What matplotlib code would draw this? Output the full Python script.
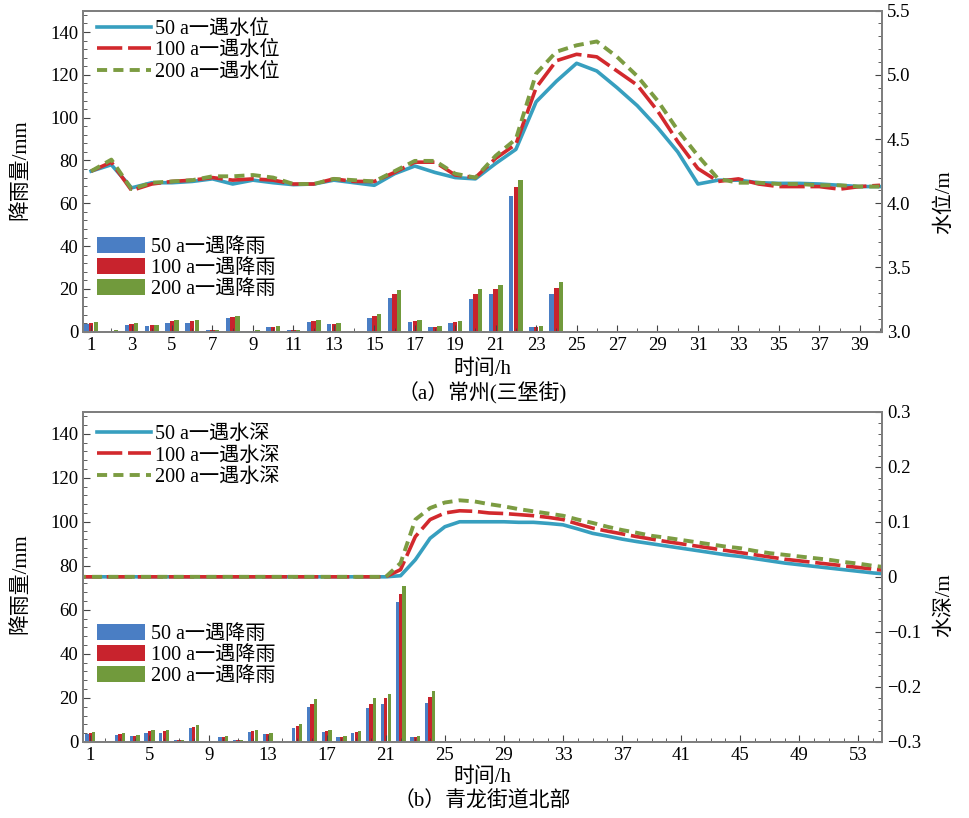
import matplotlib
matplotlib.use("Agg")
import matplotlib.pyplot as plt
from matplotlib.ticker import MultipleLocator, FuncFormatter

plt.rcParams['font.family'] = ['Liberation Serif', 'Noto Sans CJK SC']
plt.rcParams['font.size'] = 12.5

# rainfall (mm), same storm for both sites
rain_hours = list(range(1, 25))
rain_50 = [3.6, 0.4, 3.1, 2.6, 4.2, 4.2, 0.8, 6.5, 0.4, 2.2, 0.7, 4.5,
           3.6, 0.0, 6.4, 15.8, 4.5, 2.2, 3.9, 15.3, 17.4, 63.5, 2.3, 17.8]
rain_100 = [4.0, 0.5, 3.5, 2.9, 4.8, 4.8, 0.9, 7.0, 0.5, 2.4, 0.8, 5.0,
            3.7, 0.0, 7.3, 17.4, 5.0, 2.4, 4.4, 17.4, 19.8, 67.4, 2.4, 20.5]
rain_200 = [4.4, 0.6, 3.9, 3.1, 5.4, 5.3, 1.0, 7.5, 0.6, 2.6, 0.9, 5.6,
            4.0, 0.0, 8.1, 19.4, 5.4, 2.5, 5.0, 20.0, 21.7, 70.8, 2.6, 23.0]

# (a) water level (m)
level_hours = list(range(1, 41))
level_50 = [4.25, 4.30, 4.12, 4.16, 4.16, 4.17, 4.19, 4.15, 4.18, 4.16,
            4.145, 4.15, 4.18, 4.16, 4.14, 4.23, 4.29, 4.24, 4.20, 4.19,
            4.31, 4.42, 4.79, 4.95, 5.09, 5.03, 4.90, 4.76, 4.59, 4.40,
            4.15, 4.18, 4.18, 4.16, 4.155, 4.155, 4.15, 4.14, 4.13, 4.13]
level_100 = [4.25, 4.32, 4.10, 4.15, 4.17, 4.18, 4.20, 4.18, 4.19, 4.18,
             4.15, 4.15, 4.19, 4.17, 4.17, 4.24, 4.32, 4.32, 4.22, 4.20,
             4.35, 4.46, 4.90, 5.11, 5.16, 5.14, 5.03, 4.92, 4.72, 4.48,
             4.27, 4.17, 4.19, 4.15, 4.13, 4.13, 4.13, 4.11, 4.13, 4.14]
level_200 = [4.25, 4.34, 4.11, 4.16, 4.17, 4.18, 4.21, 4.21, 4.22, 4.20,
             4.15, 4.15, 4.19, 4.18, 4.17, 4.25, 4.33, 4.33, 4.23, 4.20,
             4.37, 4.50, 5.01, 5.18, 5.23, 5.26, 5.14, 4.99, 4.80, 4.57,
             4.37, 4.19, 4.16, 4.16, 4.15, 4.15, 4.14, 4.14, 4.13, 4.13]

# (b) water depth (m)
depth_hours = list(range(0, 56))
depth_50 = [0, 0, 0, 0, 0, 0, 0, 0, 0, 0, 0, 0, 0, 0, 0, 0, 0, 0, 0, 0, 0, 0,
            0.002, 0.031, 0.070, 0.091, 0.100, 0.100, 0.100, 0.100, 0.099, 0.099,
            0.097, 0.0945, 0.087, 0.079, 0.074, 0.0685, 0.064, 0.060, 0.056, 0.052,
            0.048, 0.044, 0.040, 0.037, 0.033, 0.029, 0.025, 0.022, 0.019, 0.016,
            0.013, 0.010, 0.007, 0.005]
depth_100 = [0, 0, 0, 0, 0, 0, 0, 0, 0, 0, 0, 0, 0, 0, 0, 0, 0, 0, 0, 0, 0, 0,
             0.013, 0.073, 0.104, 0.116, 0.120, 0.119, 0.116, 0.115, 0.113, 0.111,
             0.108, 0.104, 0.096, 0.0885, 0.083, 0.078, 0.073, 0.0685, 0.064, 0.060,
             0.056, 0.052, 0.048, 0.044, 0.040, 0.036, 0.032, 0.029, 0.026, 0.023,
             0.020, 0.017, 0.014, 0.011]
depth_200 = [0, 0, 0, 0, 0, 0, 0, 0, 0, 0, 0, 0, 0, 0, 0, 0, 0, 0, 0, 0, 0, 0,
             0.025, 0.104, 0.125, 0.135, 0.139, 0.137, 0.132, 0.128, 0.123, 0.119,
             0.115, 0.111, 0.104, 0.098, 0.091, 0.085, 0.080, 0.0745, 0.071, 0.067,
             0.063, 0.059, 0.055, 0.052, 0.047, 0.043, 0.040, 0.037, 0.034, 0.031,
             0.027, 0.024, 0.020, 0.017]

bar_colors = ['#4a7ec4', '#c8232d', '#719a3c']
line_colors = ['#379fbf', '#d2292d', '#7c9c42']
frame_color = '#7f7f7f'
label_size = 15


def style_axes(ax, ax2):
    for a in (ax, ax2):
        for s in a.spines.values():
            s.set_color(frame_color)
            s.set_linewidth(1.4)
        a.tick_params(which='both', direction='in', color='#444444', labelsize=13.5)
        a.tick_params(which='major', length=5)
        a.tick_params(which='minor', length=3)
    ax.set_ylim(0, 150)
    ax.yaxis.set_major_locator(MultipleLocator(20))
    ax.yaxis.set_minor_locator(MultipleLocator(4))
    ax.xaxis.set_minor_locator(MultipleLocator(1))


def draw_panel(ax, level_x, levels, lvl_name):
    offs = [-0.23, 0.0, 0.23]
    names = ['50 a一遇降雨', '100 a一遇降雨', '200 a一遇降雨']
    for rain, off, c, n in zip([rain_50, rain_100, rain_200], offs, bar_colors, names):
        ax.bar([h + off for h in rain_hours], rain, width=0.22, color=c, label=n)
    ax2 = ax.twinx()
    styles = ['-', (0, (7, 1.6)), (0, (2.6, 1.6))]
    widths = [2.6, 2.6, 2.8]
    rps = ['50', '100', '200']
    for lv, c, st, lw, rp in zip(levels, line_colors, styles, widths, rps):
        ax2.plot(level_x, lv, color=c, ls=st, lw=lw, label=rp + ' a一遇' + lvl_name)
    return ax2


def add_legends(ax, ax2, y_lines, y_bars):
    ax2.legend(loc='center left', bbox_to_anchor=(0.0175, y_lines), frameon=False,
               borderpad=0, borderaxespad=0, handlelength=2.7, handletextpad=0.2,
               labelspacing=0.12, fontsize=14.5)
    ax.legend(loc='center left', bbox_to_anchor=(0.0175, y_bars), frameon=False,
              borderpad=0, borderaxespad=0, handlelength=2.4, handleheight=0.8,
              handletextpad=0.3, labelspacing=0.06, fontsize=14.5)


fig = plt.figure(figsize=(9.7, 8.18), dpi=100)

# (a) Changzhou
ax_a = fig.add_axes([0.0856, 0.5945, 0.8237, 0.3925])
ax_a2 = draw_panel(ax_a, level_hours, [level_50, level_100, level_200], '水位')
style_axes(ax_a, ax_a2)
ax_a.set_xlim(0.6, 40.1)
ax_a.set_xticks(range(1, 40, 2))
ax_a2.set_ylim(3.0, 5.5)
ax_a2.yaxis.set_major_locator(MultipleLocator(0.5))
ax_a2.yaxis.set_minor_locator(MultipleLocator(0.1))
ax_a2.yaxis.set_major_formatter(FuncFormatter(lambda v, p: f'{v:.1f}'))
add_legends(ax_a, ax_a2, 0.875, 0.198)

# (b) Qinglong street north
ax_b = fig.add_axes([0.0856, 0.093, 0.8237, 0.4037])
ax_b2 = draw_panel(ax_b, depth_hours, [depth_50, depth_100, depth_200], '水深')
style_axes(ax_b, ax_b2)
ax_b.set_xlim(0.5, 54.6)
ax_b.set_xticks(range(1, 54, 4))
ax_b2.set_ylim(-0.3, 0.3)
ax_b2.yaxis.set_major_locator(MultipleLocator(0.1))
ax_b2.yaxis.set_minor_locator(MultipleLocator(0.02))
ax_b2.yaxis.set_major_formatter(FuncFormatter(
    lambda v, p: '0' if abs(v) < 1e-9 else f'{v:.1f}'.replace('-', '\u2212')))
add_legends(ax_b, ax_b2, 0.866, 0.263)

# labels
fig.text(0.021, 0.792, '降雨量/mm', rotation=90, ha='center', va='center', fontsize=label_size)
fig.text(0.974, 0.753, '水位/m', rotation=90, ha='center', va='center', fontsize=label_size)
fig.text(0.497, 0.549, '时间/h', ha='center', va='center', fontsize=label_size)
fig.text(0.497, 0.519, '（a）常州(三堡街)', ha='center', va='center', fontsize=label_size)

fig.text(0.021, 0.287, '降雨量/mm', rotation=90, ha='center', va='center', fontsize=label_size)
fig.text(0.974, 0.260, '水深/m', rotation=90, ha='center', va='center', fontsize=label_size)
fig.text(0.497, 0.050, '时间/h', ha='center', va='center', fontsize=label_size)
fig.text(0.497, 0.020, '（b）青龙街道北部', ha='center', va='center', fontsize=label_size)

fig.savefig('out.png', dpi=100)
